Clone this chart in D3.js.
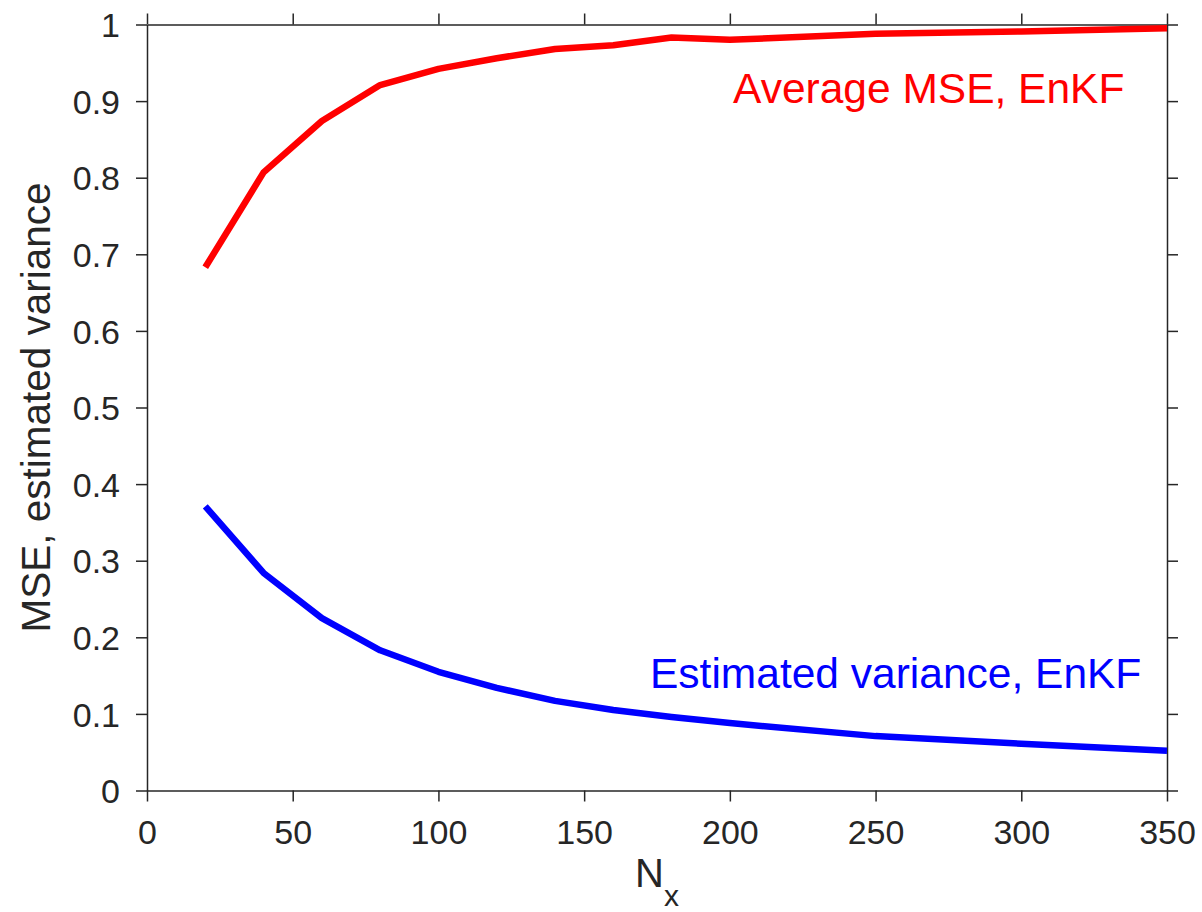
<!DOCTYPE html>
<html>
<head>
<meta charset="utf-8">
<script src="https://cdn.jsdelivr.net/npm/d3@7"></script>
<style>
  html, body { margin: 0; padding: 0; background: #fff; }
  svg { display: block; font-family: "Liberation Sans", Arial, Helvetica, sans-serif; }
</style>
</head>
<body>
<svg id="chart" width="1202" height="912"></svg>
<script>
// ── Data ──────────────────────────────────────────────────────────────────────
const nx       = [20, 40, 60, 80, 100, 120, 140, 160, 180, 200, 250, 300, 350]
const mseEnKF  = [0.683, 0.807, 0.874, 0.921, 0.942, 0.956, 0.968, 0.973, 0.983, 0.980, 0.988, 0.991, 0.995]
const varEnKF  = [0.371, 0.284, 0.225, 0.183, 0.155, 0.134, 0.117, 0.105, 0.096, 0.088, 0.071, 0.061, 0.052]
const xTicks   = [0, 50, 100, 150, 200, 250, 300, 350]
const yTicks   = [0, 0.1, 0.2, 0.3, 0.4, 0.5, 0.6, 0.7, 0.8, 0.9, 1]
const yLabels  = ['0', '0.1', '0.2', '0.3', '0.4', '0.5', '0.6', '0.7', '0.8', '0.9', '1']

const series = [
  { name: 'Average MSE, EnKF',        values: mseEnKF, color: '#ff0000' },
  { name: 'Estimated variance, EnKF', values: varEnKF, color: '#0000ff' },
]

// ── Layout ────────────────────────────────────────────────────────────────────
const W = 1202, H = 912
const margin = { top: 24.5, right: 35, bottom: 121.5, left: 147 }
const AXIS = '#262626'
const TICK = 11

const svg = d3.select('#chart')
const g = svg.append('g').attr('transform', `translate(${margin.left},${margin.top})`)
const iw = W - margin.left - margin.right
const ih = H - margin.top - margin.bottom

const x = d3.scaleLinear().domain([0, 350]).range([0, iw])
const y = d3.scaleLinear().domain([0, 1]).range([ih, 0])

// ── Axes (box on, ticks out) ──────────────────────────────────────────────────
function styleAxis(sel) {
  sel.select('.domain').attr('stroke', AXIS).attr('stroke-width', 1.5)
  sel.selectAll('.tick line').attr('stroke', AXIS).attr('stroke-width', 1.5)
  sel.selectAll('.tick text').attr('fill', AXIS).attr('font-size', 34)
}

g.append('g')
  .attr('transform', `translate(0,${ih})`)
  .call(d3.axisBottom(x).tickValues(xTicks).tickSize(TICK).tickSizeOuter(0).tickPadding(12))
  .call(styleAxis)
  .call(a => a.selectAll('.tick text').attr('dy', null).attr('y', 53))

g.append('g')
  .call(d3.axisTop(x).tickValues(xTicks).tickSize(TICK).tickSizeOuter(0).tickFormat(''))
  .call(styleAxis)

g.append('g')
  .call(d3.axisLeft(y).tickValues(yTicks).tickSize(TICK).tickSizeOuter(0)
    .tickFormat((d, i) => yLabels[i]).tickPadding(16))
  .call(styleAxis)
  .call(a => a.selectAll('.tick text').attr('dy', '0.36em'))

g.append('g')
  .attr('transform', `translate(${iw},0)`)
  .call(d3.axisRight(y).tickValues(yTicks).tickSize(TICK).tickSizeOuter(0).tickFormat(''))
  .call(styleAxis)

// ── Lines ─────────────────────────────────────────────────────────────────────
const line = d3.line()
  .x((d, i) => x(nx[i]))
  .y(d => y(d))

g.selectAll('.series')
  .data(series)
  .join('path')
  .attr('class', 'series')
  .attr('d', d => line(d.values))
  .attr('fill', 'none')
  .attr('stroke', d => d.color)
  .attr('stroke-width', 6.5)
  .attr('stroke-linejoin', 'round')
  .attr('stroke-linecap', 'butt')

// ── Annotations (data coordinates) ────────────────────────────────────────────
const notes = [
  { text: series[0].name, color: series[0].color, nx: 201.1, v: 0.897 },
  { text: series[1].name, color: series[1].color, nx: 172.6, v: 0.1334 },
]
g.selectAll('.note')
  .data(notes)
  .join('text')
  .attr('class', 'note')
  .attr('x', d => x(d.nx))
  .attr('y', d => y(d.v))
  .attr('fill', d => d.color)
  .attr('font-size', 42.5)
  .text(d => d.text)

// ── Axis labels ───────────────────────────────────────────────────────────────
const xl = svg.append('text')
  .attr('x', margin.left + iw / 2)
  .attr('y', 887)
  .attr('text-anchor', 'middle')
  .attr('fill', AXIS)
xl.append('tspan').attr('font-size', 40).text('N')
xl.append('tspan').attr('font-size', 30).attr('dy', 19).text('x')

svg.append('text')
  .attr('transform', `translate(50,${margin.top + ih / 2}) rotate(-90)`)
  .attr('text-anchor', 'middle')
  .attr('fill', AXIS)
  .attr('font-size', 40.5)
  .text('MSE, estimated variance')
</script>
</body>
</html>
